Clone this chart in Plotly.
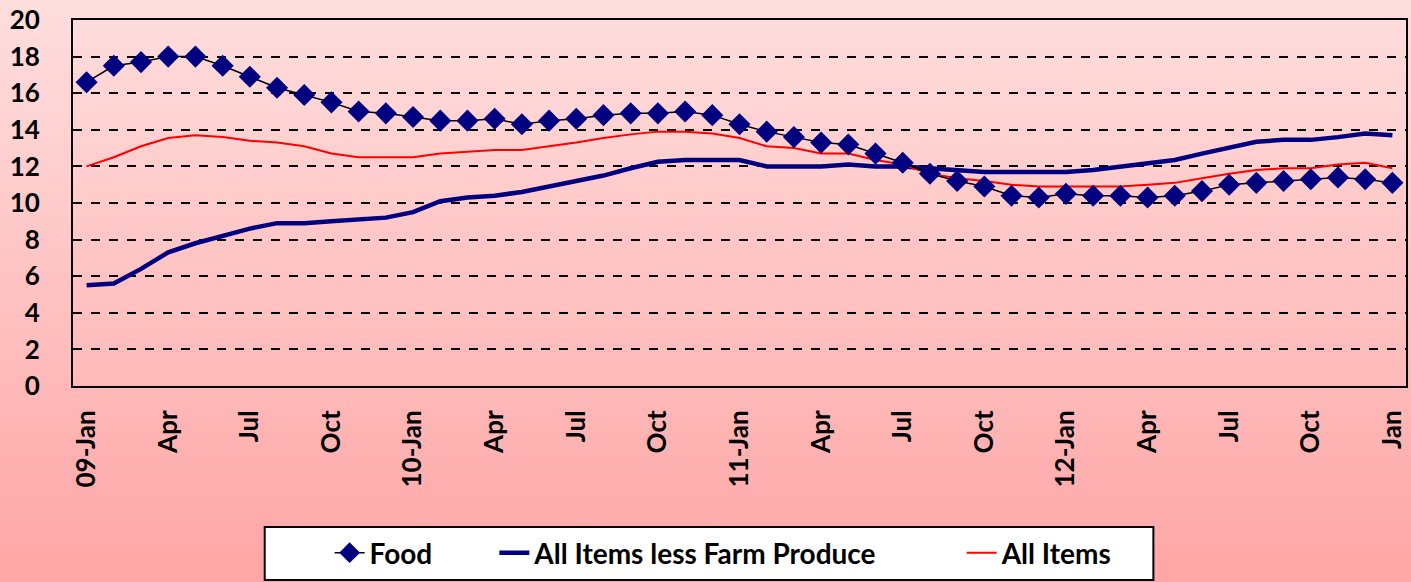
import plotly.graph_objects as go

months = [f"{y}-{m:02d}" for y in range(2009, 2013) for m in range(1, 13)] + ["2013-01"]

food = [16.6, 17.5, 17.7, 18.0, 18.0, 17.5, 16.9, 16.3, 15.9, 15.5, 15.0, 14.9,
        14.7, 14.5, 14.5, 14.6, 14.3, 14.5, 14.6, 14.8, 14.9, 14.9, 15.0, 14.8,
        14.3, 13.9, 13.6, 13.3, 13.2, 12.7, 12.2, 11.6, 11.2, 10.9, 10.4, 10.3,
        10.5, 10.4, 10.4, 10.3, 10.4, 10.65, 11.0, 11.1, 11.2, 11.3, 11.4, 11.3,
        11.1]
less_farm = [5.5, 5.6, 6.4, 7.3, 7.8, 8.2, 8.6, 8.9, 8.9, 9.0, 9.1, 9.2,
             9.5, 10.1, 10.3, 10.4, 10.6, 10.9, 11.15, 11.5, 11.9, 12.25, 12.35, 12.35,
             12.35, 12.0, 12.0, 12.0, 12.1, 12.0, 12.0, 11.9, 11.8, 11.7, 11.7, 11.7,
             11.7, 11.8, 12.0, 12.2, 12.35, 12.7, 13.0, 13.35, 13.45, 13.45, 13.6, 13.8,
             13.7]
all_items = [12.0, 12.5, 13.1, 13.55, 13.7, 13.6, 13.4, 13.3, 13.1, 12.7, 12.5, 12.5,
             12.5, 12.7, 12.8, 12.9, 12.9, 13.1, 13.3, 13.55, 13.75, 13.9, 13.9, 13.8,
             13.55, 13.1, 13.0, 12.7, 12.7, 12.35, 12.1, 11.6, 11.35, 11.2, 11.0, 10.9,
             10.9, 10.9, 10.9, 11.0, 11.1, 11.35, 11.6, 11.8, 11.9, 11.9, 12.1, 12.2,
             11.9]

tick_labels = ["09-Jan", "Apr", "Jul", "Oct", "10-Jan", "Apr", "Jul", "Oct",
               "11-Jan", "Apr", "Jul", "Oct", "12-Jan", "Apr", "Jul", "Oct", "Jan"]
tick_vals = months[::3]

y_ticks = list(range(0, 21, 2))

W, H = 1411, 582
ML, MR, MT, MB = 73, 3, 20, 196
PW, PH = W - ML - MR, H - MT - MB


def px_x(x):
    return (x - ML) / PW


def px_y(y):
    return (H - MB - y) / PH


fig = go.Figure()
fig.add_trace(go.Scatter(x=months, y=less_farm, name="All Items less Farm Produce",
                         mode="lines", line=dict(color="#000080", width=4.5),
                         legend="legend2"))
fig.add_trace(go.Scatter(x=months, y=all_items, name="All Items",
                         mode="lines", line=dict(color="#FF0000", width=2),
                         legend="legend3"))
fig.add_trace(go.Scatter(x=months, y=food, name="Food",
                         mode="lines+markers", line=dict(color="#000000", width=1.5),
                         marker=dict(symbol="diamond", size=17, color="#000080"),
                         legend="legend"))

# gradient background
shapes = []
n = 60
top_c = (255, 222, 222)
bot_c = (255, 166, 166)
y0p = px_y(H)
y1p = px_y(0)
for i in range(n):
    t = i / (n - 1)
    c = tuple(int(round(top_c[k] + (bot_c[k] - top_c[k]) * t)) for k in range(3))
    ya = y1p - (y1p - y0p) * i / n
    yb = y1p - (y1p - y0p) * (i + 1) / n
    shapes.append(dict(type="rect", xref="paper", yref="paper",
                       x0=-0.1, x1=1.1, y0=yb - 0.002, y1=ya + 0.002,
                       fillcolor=f"rgb{c}", line=dict(width=0), layer="below"))
# legend box
shapes.append(dict(type="rect", xref="paper", yref="paper",
                   x0=px_x(265), x1=px_x(1155), y0=px_y(580), y1=px_y(527),
                   fillcolor="#FFFFFF", line=dict(color="#000000", width=2), layer="below"))

leg_font = dict(family="Lato", size=28, weight="bold", color="#000000")
leg_common = dict(orientation="h", xanchor="left", yanchor="middle", y=px_y(553),
                  bgcolor="rgba(0,0,0,0)", borderwidth=0, font=leg_font)

fig.update_layout(
    width=W, height=H,
    margin=dict(l=ML, r=MR, t=MT, b=MB),
    paper_bgcolor="#FFC4C4",
    plot_bgcolor="rgba(0,0,0,0)",
    shapes=shapes,
    font=dict(family="Lato", size=24, color="#000000", weight="bold"),
    showlegend=True,
    legend=dict(x=px_x(330), **leg_common),
    legend2=dict(x=px_x(495), **leg_common),
    legend3=dict(x=px_x(963), **leg_common),
)
fig.update_xaxes(type="category", range=[-0.5, 48.5],
                 tickmode="array", tickvals=tick_vals, ticktext=tick_labels,
                 tickangle=-90, showgrid=False, showline=True, linecolor="#000000",
                 linewidth=2, mirror=True, ticks="", ticklabelstandoff=12,
                 tickfont=dict(family="Lato", size=26, weight="bold"))
fig.update_yaxes(range=[0, 20], tickvals=y_ticks, showgrid=True, gridcolor="#000000",
                 griddash="dash", gridwidth=1.5, showline=True, linecolor="#000000",
                 linewidth=2, mirror=True, zeroline=False, ticks="", ticklabelstandoff=26,
                 tickfont=dict(family="Lato", size=26, weight="bold"))

fig.write_html("out.html", config={"displayModeBar": False},
               post_script="document.body.style.margin='0';document.body.style.padding='0';document.body.style.overflow='hidden';")
